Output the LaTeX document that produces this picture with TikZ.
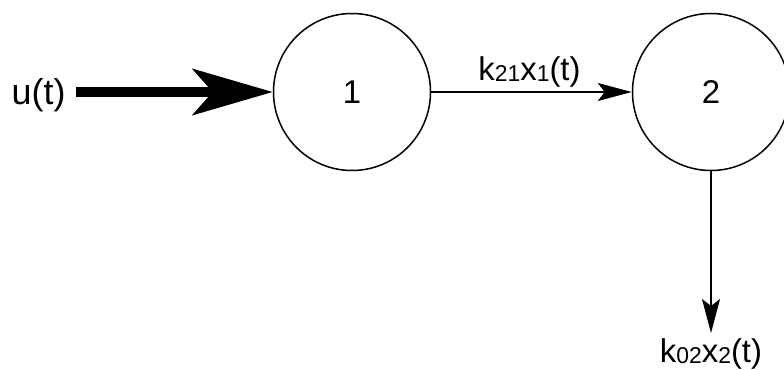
\documentclass[tikz,border=0pt]{standalone}
\usepackage{fontspec}
\setmainfont{Liberation Sans}
\usetikzlibrary{arrows.meta,positioning}
\newcommand{\lowidx}[1]{{\fontsize{23}{23}\selectfont\raisebox{-1bp}{#1}}}

\begin{document}
\begin{tikzpicture}[
    x=1bp, y=1bp,
    every node/.style={font=\fontsize{33}{38}\selectfont},
    comp/.style={circle, draw, line width=1.5bp, minimum size=157bp, inner sep=0pt},
    flowarrow/.style={-{Stealth[length=34bp, width=18bp, inset=7bp]}, line width=1.6bp},
    inarrow/.style={-{Stealth[length=80bp, width=46bp, inset=20bp]}, line width=10bp},
]
\useasboundingbox (0,0) rectangle (784,369);

% Compartments
\node[comp] (c1) at (352,277) {1};
\node[comp] (c2) at (711,277) {2};

% Input and output
\node[anchor=east, font=\fontsize{36}{40}\selectfont] (u) at (69,274) {u(t)};
\coordinate (uin) at (76,277);
\coordinate (out) at (711,36);
\node[below=2bp of out] (k02) {k\lowidx{02}x\lowidx{2}(t)};

% Flows
\draw[inarrow] (uin) -- (c1.west);
\draw[flowarrow] (c1.east) -- node[above=1bp, xshift=-2bp] (k21) {k\lowidx{21}x\lowidx{1}(t)} (c2.west);
\draw[flowarrow] (c2.south) -- (out);

\end{tikzpicture}
\end{document}
